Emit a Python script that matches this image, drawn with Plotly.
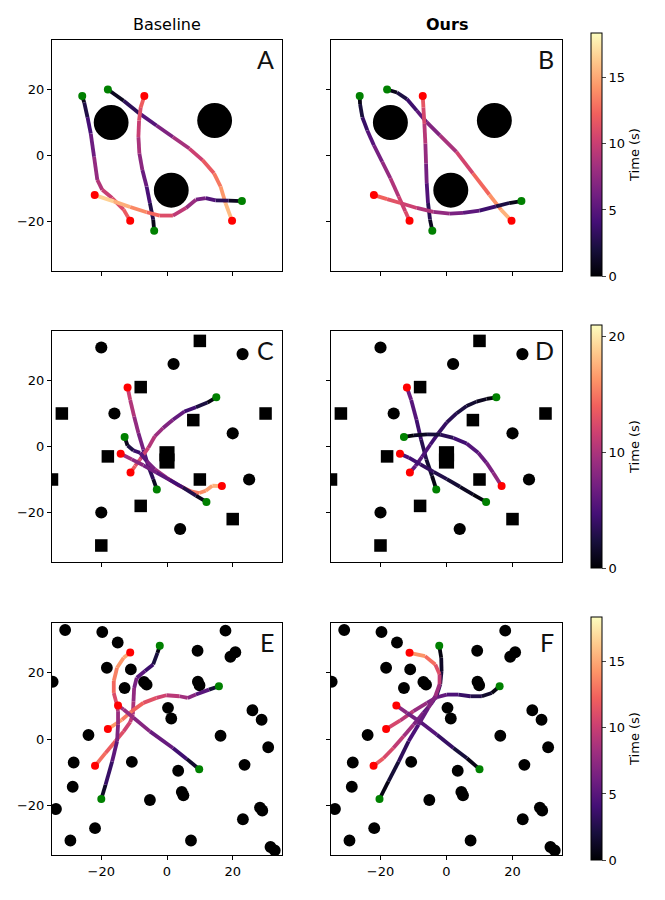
import plotly.graph_objects as go

# ---- obstacles: environment 1 (rows A/B), large discs ----
ENV1_CIRC_X = [-17.0, 14.5, 1.3]
ENV1_CIRC_Y = [10.0, 10.6, -10.5]
ENV1_CIRC_R = [5.3, 5.3, 5.3]

# ---- environment 2 (rows C/D), discs and boxes ----
ENV2_CIRC_X = [-20, 2, 23, -16, 20, 25, -20, 4]
ENV2_CIRC_Y = [30, 25, 28, 10, 4, -10, -20, -25]
ENV2_CIRC_R = [1.85, 1.85, 1.85, 1.85, 1.85, 1.85, 1.85, 1.85]
ENV2_SQ_X = [10, -8, -32, 8, 30, -35, -18, 10, -8, 20, -20, 0, 0]
ENV2_SQ_Y = [32, 18, 10, 8, 10, -10, -3, -10, -18, -22, -30, -2.2, -4.4]
ENV2_SQ_S = [3.8, 3.8, 3.8, 3.8, 3.8, 3.8, 3.8, 3.8, 3.8, 3.8, 3.8, 4.6, 4.6]

# ---- environment 3 (rows E/F), many small discs ----
ENV3_CIRC_X = [-31, -19.7, -15, 17.8, 9.3, 19.3, 20.8, -18.3, -11, -34.8, -12.9,
               -7, -6.2, 9.4, 9.9, 0.3, 1.3, 26, 28.8, -23.9, 16.3, 30.8, -28.4,
               -10.7, 3.4, 23.6, -28.7, 4.5, 5, -5.2, -33.8, 28.3, 29, -21.9,
               23.1, -29.4, 7.3, 31.5, 32.8]
ENV3_CIRC_Y = [32.9, 32.3, 29.1, 32.7, 26.6, 24.8, 26.2, 21.5, 21, 17.3, 15.4,
               17.2, 16.4, 17.3, 16.2, 9.4, 6.2, 8.7, 5.8, 1.2, 1.0, -2.5, -7.1,
               -6.9, -9.6, -7.8, -14.4, -16, -17, -18.4, -21.1, -20.7, -21.6,
               -26.9, -24.2, -30.6, -30.6, -32.6, -33.6]
ENV3_CIRC_R = 1.8

# ---- trajectories: (x, y, time in s) ----
A1 = [(-25.8, 18.0, 0), (-25.2, 16.1, 1.5), (-24.2, 11.6, 3.3), (-23.2, 6.6, 5.0),
      (-22.2, -0.4, 6.8), (-21.2, -7.4, 8.5), (-19.7, -10.4, 9.5), (-16.7, -12.9, 10.5),
      (-13.2, -16.4, 11.5), (-11.2, -19.8, 12.3)]
A2 = [(-18.0, 20.0, 0), (-13.2, 16.6, 2), (-8.2, 12.6, 4), (-3.2, 9.1, 5.8), (1.8, 5.6, 7.6),
      (6.8, 2.1, 9.4), (10.8, -1.4, 11), (14.3, -5.4, 12.6), (16.3, -9.4, 13.8),
      (17.8, -14.4, 15), (19.8, -19.8, 16.5)]
A3 = [(-3.9, -22.8, 0), (-4.2, -19.4, 1.5), (-5.2, -14.4, 3.5), (-6.2, -9.4, 5), (-7.5, -4.4, 6.5),
      (-8.4, 0.6, 8), (-8.7, 5.6, 9.3), (-8.5, 10.6, 10.6), (-8.0, 14.6, 11.6), (-6.9, 18.0, 12.6)]
A4 = [(22.8, -13.8, 0), (18.8, -13.7, 2), (14.8, -13.6, 4), (11.8, -12.9, 5.5), (8.8, -13.4, 7),
      (5.8, -15.9, 8.8), (1.8, -18.2, 10.3), (-2.2, -18.2, 11.8), (-6.2, -17.2, 13),
      (-11.2, -15.6, 14.6), (-16.2, -13.9, 16), (-22.0, -12.0, 17.3)]

B1 = [(-26.3, 18.0, 0), (-26.2, 15.6, 1.3), (-25.5, 11.6, 2.8), (-24.0, 7.6, 4.2), (-22.0, 3.1, 5.6),
      (-19.5, -1.9, 7), (-17.0, -6.9, 8.3), (-14.5, -12.4, 9.6), (-12.5, -16.9, 10.6),
      (-11.2, -19.8, 11.3)]
B2 = [(-18.0, 20.0, 0), (-15.0, 19.1, 1.5), (-12.0, 17.1, 3), (-9.0, 13.6, 4.5), (-6.0, 10.1, 6),
      (-2.0, 6.1, 7.7), (3.0, 1.1, 9.5), (8.0, -5.4, 11.5), (13.0, -11.9, 13.5),
      (16.5, -16.4, 14.8), (19.7, -19.8, 16)]
B3 = [(-4.3, -22.8, 0), (-5.0, -19.4, 2), (-5.6, -14.4, 3.8), (-6.0, -8.4, 5.5), (-6.2, -2.4, 7),
      (-6.4, 3.6, 8.5), (-6.7, 9.6, 10), (-7.0, 14.6, 11.2), (-7.2, 18.0, 12)]
B4 = [(22.7, -13.8, 0), (19.0, -14.4, 1.5), (15.0, -15.4, 3), (10.0, -16.7, 4.5), (5.0, -17.4, 6),
      (1.0, -17.6, 7), (-4.0, -17.1, 8.3), (-9.0, -15.9, 9.6), (-14.0, -14.4, 10.9),
      (-18.0, -13.2, 11.8), (-22.0, -12.0, 12.8)]

C1 = [(-3.1, -13.0, 0), (-4.2, -9.9, 2.5), (-5.7, -5.9, 4.5), (-7.2, -0.9, 6.5), (-8.7, 4.1, 8),
      (-10.0, 9.1, 9.5), (-11.2, 14.1, 11), (-12.0, 17.9, 12)]
C2 = [(15.0, 14.9, 0), (12.3, 13.3, 1.5), (8.8, 11.9, 3.5), (5.3, 10.6, 5.5), (1.8, 8.1, 7),
      (-1.2, 5.6, 8.5), (-3.7, 3.1, 9.8), (-5.7, -0.4, 11), (-8.2, -3.9, 12.3),
      (-9.7, -5.9, 13.2), (-11.1, -7.9, 14)]
C3 = [(-12.9, 2.9, 0), (-12.0, 0.3, 2), (-10.2, -1.2, 3.5), (-8.2, -1.9, 4.8), (-6.2, -4.4, 6.5),
      (-3.7, -6.9, 8.3), (-0.2, -9.4, 10.5), (3.8, -11.9, 12.5), (7.3, -13.6, 14.5),
      (9.8, -14.1, 15.6), (11.8, -13.4, 16.4), (13.8, -11.9, 17.2), (16.7, -12.0, 18)]
C4 = [(12.0, -16.8, 0), (8.8, -14.9, 2), (4.8, -12.4, 3.8), (0.8, -10.1, 5.3), (-3.2, -7.9, 6.6),
      (-7.2, -5.7, 7.8), (-10.7, -3.9, 8.8), (-14.1, -2.2, 9.8)]

D1 = [(-3.1, -13.0, 0), (-4.4, -8.9, 1.3), (-6.1, -3.9, 2.5), (-7.7, 2.1, 3.8), (-9.1, 8.1, 5),
      (-10.7, 14.1, 6.2), (-12.0, 17.9, 7)]
D2 = [(15.1, 14.9, 0), (12.1, 14.4, 0.8), (9.1, 13.6, 1.5), (6.1, 12.3, 2.2), (3.1, 10.1, 2.9),
      (0.1, 7.3, 3.6), (-2.4, 4.1, 4.2), (-4.9, 0.6, 4.8), (-7.4, -3.1, 5.4), (-9.4, -5.9, 5.9),
      (-11.1, -7.9, 6.3)]
D3 = [(-12.9, 2.9, 0), (-9.9, 3.4, 0.8), (-5.9, 3.7, 1.8), (-1.9, 3.6, 2.8), (2.1, 2.6, 3.9),
      (6.1, 0.9, 5), (9.6, -1.9, 6), (12.1, -4.9, 7), (14.1, -7.9, 8), (16.7, -12.0, 9)]
D4 = [(12.0, -16.8, 0), (8.1, -14.6, 0.8), (4.1, -12.2, 1.6), (0.1, -9.9, 2.5), (-3.9, -7.7, 3.3),
      (-7.9, -5.4, 4.1), (-11.4, -3.4, 4.9), (-14.1, -2.2, 5.5)]

E1 = [(-2.2, 28.1, 0), (-2.9, 26.0, 1.2), (-4.2, 22.5, 3), (-6.7, 20.5, 4.5), (-9.2, 18.5, 5.8),
      (-10.0, 15.4, 7), (-10.2, 11.4, 8.2), (-10.4, 7.4, 9.3), (-11.2, 5.1, 10), (-13.2, 2.3, 10.8),
      (-15.7, -0.7, 11.6), (-18.7, -4.2, 12.4), (-21.9, -8.1, 13.2)]
E2 = [(15.8, 15.9, 0), (12.8, 14.9, 3.5), (8.8, 13.4, 6.5), (6.3, 12.4, 7.8), (3.8, 12.9, 8.8),
      (-0.2, 13.2, 10), (-3.2, 12.4, 10.8), (-7.2, 10.9, 11.8), (-10.7, 8.4, 12.8),
      (-13.7, 5.8, 13.8), (-18.0, 3.0, 15)]
E3 = [(9.8, -9.1, 0), (6.0, -6.0, 3), (1.8, -2.7, 4.8), (-5.2, 2.3, 6.5), (-10.2, 6.4, 7.6),
      (-13.2, 8.9, 8.2), (-14.9, 10.1, 8.6)]
E4 = [(-20.0, -18.1, 0), (-18.7, -13.8, 2.5), (-16.7, -6.8, 4.5), (-15.2, -0.7, 6), (-14.9, 4.3, 7.3),
      (-14.9, 8.4, 8.5), (-15.4, 10.9, 10), (-16.2, 13.9, 12), (-16.2, 17.5, 13), (-15.2, 21.5, 14),
      (-13.2, 24.5, 14.8), (-11.2, 26.1, 15.3)]

F1 = [(-2.2, 28.1, 0), (-1.6, 24.5, 0.8), (-1.5, 20.5, 1.7), (-1.9, 16.5, 2.6), (-2.9, 13.4, 3.5),
      (-4.4, 10.9, 4.5), (-7.0, 7.9, 6), (-10.0, 4.3, 7.5), (-13.0, 0.8, 9), (-16.1, -2.7, 10.3),
      (-19.1, -5.8, 11.4), (-22.1, -8.1, 12.3)]
F2 = [(16.1, 15.9, 0), (13.7, 13.9, 1), (10.7, 12.9, 2), (7.2, 12.9, 3), (3.6, 13.4, 4),
      (0.1, 13.4, 5), (-2.9, 12.6, 6), (-5.9, 10.9, 7.2), (-10.0, 8.4, 8.6), (-14.0, 5.6, 10),
      (-18.3, 3.0, 11.3)]
F3 = [(10.0, -9.1, 0), (6.2, -5.8, 1.3), (2.1, -2.7, 2.7), (-2.9, 1.3, 4.2), (-7.9, 5.1, 5.7),
      (-12.0, 7.9, 6.8), (-15.2, 10.1, 7.7)]
F4 = [(-20.3, -18.1, 0), (-17.6, -12.8, 1.2), (-14.5, -6.8, 2.5), (-11.5, -0.7, 3.8), (-8.5, 4.3, 5),
      (-5.5, 9.4, 6.3), (-3.4, 12.9, 7.5), (-2.1, 16.5, 9), (-2.1, 19.5, 10.5), (-3.4, 22.5, 12),
      (-6.5, 25.0, 13.5), (-11.2, 26.0, 15)]

ROW_TMAX = [18.4, 21.0, 18.4]
ROW_TICKS = [[0, 5, 10, 15], [0, 10, 20], [0, 5, 10, 15]]
COL_TITLES = ["Baseline", "<b>Ours</b>"]
PANEL_LABELS = ["A", "B", "C", "D", "E", "F"]
PANEL_TRAJ = [[A1, A2, A3, A4], [B1, B2, B3, B4], [C1, C2, C3, C4],
              [D1, D2, D3, D4], [E1, E2, E3, E4], [F1, F2, F3, F4]]

MAGMA = ["#000004", "#180f3d", "#440f76", "#721f81", "#9e2f7f",
         "#cd4071", "#f1605d", "#fd9668", "#feca8d", "#fcfdbf"]


def magma(v):
    v = min(max(v, 0.0), 1.0) * (len(MAGMA) - 1)
    i = min(int(v), len(MAGMA) - 2)
    f = v - i
    a = [int(MAGMA[i][k:k + 2], 16) for k in (1, 3, 5)]
    b = [int(MAGMA[i + 1][k:k + 2], 16) for k in (1, 3, 5)]
    c = [round(a[j] + (b[j] - a[j]) * f) for j in range(3)]
    return f"rgb({c[0]},{c[1]},{c[2]})"


# pixel layout of the page (665 x 900); the page body adds an 8 px margin
W, H = 665, 900
PAD = 8
COL_X = [(52, 282), (331, 562)]
ROW_Y = [(40, 271), (331, 562), (623, 855)]
CBAR_X = 591
CBAR_Y = [(33, 276), (325, 568), (617, 860)]


def fx(px):
    return (px - PAD) / W


def fy(py):
    return 1 - (py - PAD) / H


fig = go.Figure()
shapes = []
annotations = []
layout_axes = {}


def env_shapes(row, xr, yr):
    out = []
    if row == 0:
        for cx, cy, r in zip(ENV1_CIRC_X, ENV1_CIRC_Y, ENV1_CIRC_R):
            out.append(dict(type="circle", xref=xr, yref=yr, x0=cx - r, x1=cx + r,
                            y0=cy - r, y1=cy + r, fillcolor="black", line_width=0, layer="below"))
    elif row == 1:
        for cx, cy, r in zip(ENV2_CIRC_X, ENV2_CIRC_Y, ENV2_CIRC_R):
            out.append(dict(type="circle", xref=xr, yref=yr, x0=cx - r, x1=cx + r,
                            y0=cy - r, y1=cy + r, fillcolor="black", line_width=0, layer="below"))
        for cx, cy, s in zip(ENV2_SQ_X, ENV2_SQ_Y, ENV2_SQ_S):
            out.append(dict(type="rect", xref=xr, yref=yr, x0=cx - s / 2, x1=cx + s / 2,
                            y0=cy - s / 2, y1=cy + s / 2, fillcolor="black", line_width=0, layer="below"))
    else:
        r = ENV3_CIRC_R
        for cx, cy in zip(ENV3_CIRC_X, ENV3_CIRC_Y):
            out.append(dict(type="circle", xref=xr, yref=yr, x0=cx - r, x1=cx + r,
                            y0=cy - r, y1=cy + r, fillcolor="black", line_width=0, layer="below"))
    return out


for p in range(6):
    row, col = divmod(p, 2)
    n = p + 1
    xa = "x" if n == 1 else f"x{n}"
    ya = "y" if n == 1 else f"y{n}"
    tmax = ROW_TMAX[row]

    x0, x1 = COL_X[col]
    y0, y1 = ROW_Y[row]
    axis_common = dict(range=[-35, 35], tickvals=[-20, 0, 20], ticks="outside", ticklen=4,
                       tickwidth=1, tickcolor="black", showline=True, linecolor="black",
                       linewidth=1, mirror=True, showgrid=False, zeroline=False,
                       tickfont=dict(size=13, color="black"))
    layout_axes["xaxis" if n == 1 else f"xaxis{n}"] = dict(
        axis_common, domain=[fx(x0), fx(x1)], anchor=ya, showticklabels=(row == 2))
    layout_axes["yaxis" if n == 1 else f"yaxis{n}"] = dict(
        axis_common, domain=[fy(y1), fy(y0)], anchor=xa, showticklabels=(col == 0))

    shapes += env_shapes(row, xa, ya)

    for traj in PANEL_TRAJ[p]:
        xs = [pt[0] for pt in traj]
        ys = [pt[1] for pt in traj]
        ts = [pt[2] for pt in traj]
        for i in range(len(traj) - 1):
            tm = 0.5 * (ts[i] + ts[i + 1])
            fig.add_trace(go.Scatter(x=xs[i:i + 2], y=ys[i:i + 2], mode="lines",
                                     line=dict(color=magma(tm / tmax), width=3.8),
                                     xaxis=xa, yaxis=ya, showlegend=False, hoverinfo="skip"))
    starts_x = [t[0][0] for t in PANEL_TRAJ[p]]
    starts_y = [t[0][1] for t in PANEL_TRAJ[p]]
    ends_x = [t[-1][0] for t in PANEL_TRAJ[p]]
    ends_y = [t[-1][1] for t in PANEL_TRAJ[p]]
    fig.add_trace(go.Scatter(x=starts_x, y=starts_y, mode="markers", xaxis=xa, yaxis=ya,
                             marker=dict(color="green", size=8), showlegend=False))
    fig.add_trace(go.Scatter(x=ends_x, y=ends_y, mode="markers", xaxis=xa, yaxis=ya,
                             marker=dict(color="red", size=8), showlegend=False))

    annotations.append(dict(text=PANEL_LABELS[p], xref=f"{xa} domain", yref=f"{ya} domain",
                            x=0.975, y=0.99, xanchor="right", yanchor="top", showarrow=False,
                            font=dict(family="Lato", size=25, color="#111111")))

    if col == 1:
        cy0, cy1 = CBAR_Y[row]
        fig.add_trace(go.Scatter(
            x=[None], y=[None], mode="markers", xaxis=xa, yaxis=ya, showlegend=False,
            marker=dict(color=[0, tmax], colorscale="Magma", cmin=0, cmax=tmax, showscale=True,
                        colorbar=dict(x=fx(CBAR_X), xanchor="left", y=(fy(cy0) + fy(cy1)) / 2,
                                      yanchor="middle", len=(cy1 - cy0) / H, lenmode="fraction",
                                      thickness=11, xpad=0, ypad=0, outlinewidth=1,
                                      outlinecolor="black", ticks="outside", ticklen=4,
                                      tickvals=ROW_TICKS[row], tickfont=dict(size=13, color="black"),
                                      title=dict(text="Time (s)", side="right",
                                                 font=dict(size=13, color="black"))))))

for c, title in enumerate(COL_TITLES):
    x0, x1 = COL_X[c]
    annotations.append(dict(text=title, xref="paper", yref="paper", x=fx((x0 + x1) / 2),
                            y=fy(25), xanchor="center", yanchor="middle", showarrow=False,
                            font=dict(size=16, color="black")))

fig.update_layout(
    width=W, height=H,
    margin=dict(l=0, r=0, t=0, b=0, autoexpand=False),
    paper_bgcolor="white", plot_bgcolor="white",
    font=dict(family="DejaVu Sans", color="black"),
    shapes=shapes, annotations=annotations, showlegend=False,
    **layout_axes,
)

fig.write_html("out.html")
